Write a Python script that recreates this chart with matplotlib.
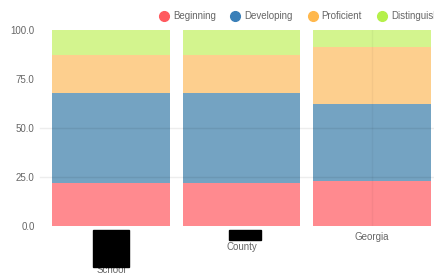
"""Stacked proficiency bars: School / County / Georgia."""

import matplotlib

matplotlib.use("Agg")
import matplotlib.pyplot as plt
from matplotlib.lines import Line2D
from matplotlib.patches import Rectangle

plt.rcParams["font.family"] = ["Liberation Sans", "DejaVu Sans"]

categories = ["School", "County", "Georgia"]
levels = ["Beginning", "Developing", "Proficient", "Distinguished"]
beginning = [22, 22, 23]
developing = [46, 46, 39]
proficient = [19, 19, 29]
distinguished = [13, 13, 9]
y_ticks = [0, 25, 50, 75, 100]

bar_colors = ["#ff8a8f", "#74a3c2", "#fdcf8e", "#d3f48e"]
dot_colors = ["#ff5a5f", "#3a7fb8", "#ffb84d", "#b5f04a"]
TEXT = "#666666"

W, H = 435, 274
fig = plt.figure(figsize=(W / 100, H / 100), dpi=100)
ax = fig.add_axes([45.75 / W, 48 / H, 391.5 / W, 196.3 / H])

x = list(range(len(categories)))
bottom = [0.0] * len(categories)
for series, color in zip([beginning, developing, proficient, distinguished], bar_colors):
    ax.bar(x, series, bottom=bottom, width=0.9, color=color, linewidth=0, zorder=2)
    bottom = [b + v for b, v in zip(bottom, series)]

ax.set_xlim(-0.5, 2.5)
ax.set_ylim(0, 100)
for s in ax.spines.values():
    s.set_visible(False)

# faint gridlines drawn over the bars
for yv in (25, 50):
    ax.plot([-6 / 391.5, 1], [yv, yv], transform=ax.get_yaxis_transform(),
            color="#000000", alpha=0.07, lw=1, clip_on=False, zorder=3)
ax.axvline(2, color="#000000", alpha=0.04, lw=1, zorder=3)

ax.set_yticks(y_ticks)
ax.set_yticklabels([f"{v:.1f}" for v in y_ticks], fontsize=7, color=TEXT)
ax.tick_params(axis="y", length=0, pad=8)
ax.set_xticks([])

# category labels (two of them sit under redaction boxes)
label_offsets = {"School": 44, "County": 21, "Georgia": 11}
for xi, name in zip(x, categories):
    ax.annotate(name, (xi, 0), xycoords=("data", "axes fraction"),
                xytext=(0, -label_offsets[name]), textcoords="offset pixels",
                ha="center", va="center", fontsize=7, color=TEXT)

for (x0, y0, x1, y1) in [(93, 230, 129, 267), (229, 230, 261, 240)]:
    fig.add_artist(Rectangle((x0 / W, 1 - y1 / H), (x1 - x0) / W, (y1 - y0) / H,
                             transform=fig.transFigure, color="black", zorder=10))

handles = [Line2D([], [], marker="o", linestyle="", markersize=7,
                  markerfacecolor=c, markeredgecolor=c) for c in dot_colors]
fig.legend(handles, levels, ncol=4, loc="center left",
           bbox_to_anchor=(160 / W, 1 - 16 / H), frameon=False,
           fontsize=7, labelcolor=TEXT, handlelength=0.8, handletextpad=0.55,
           columnspacing=1.6, borderpad=0, borderaxespad=0)

fig.savefig("out.png", dpi=100)
